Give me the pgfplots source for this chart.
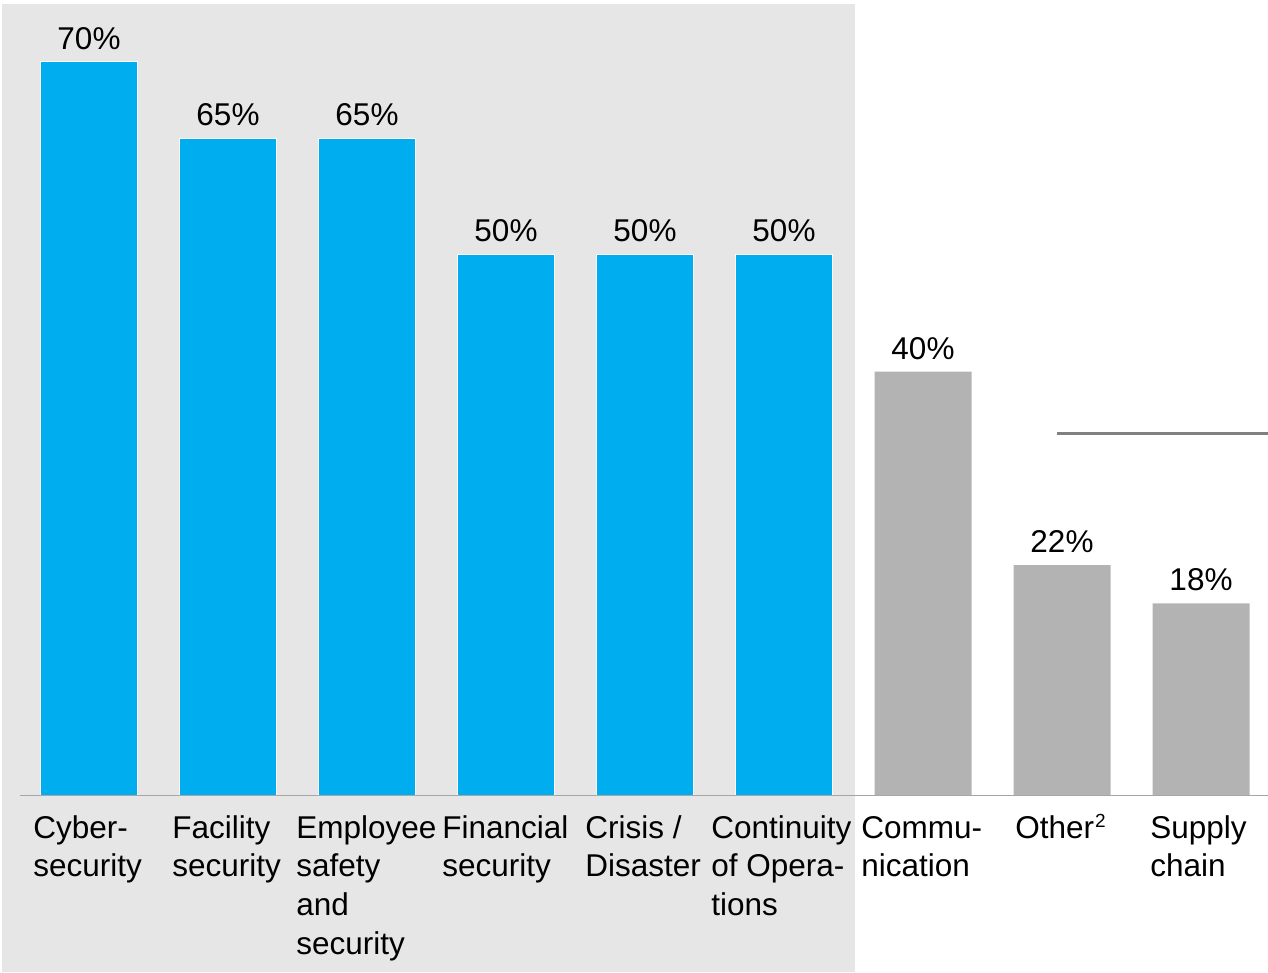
\documentclass[border=0pt]{standalone}
\usepackage{pgfplots}
\pgfplotsset{compat=1.18}
\usepackage{fontspec}
\setmainfont{Liberation Sans}
\definecolor{barblue}{RGB}{0,174,239}
\definecolor{bargray}{RGB}{179,179,179}
\definecolor{bggray}{RGB}{230,230,230}
\definecolor{axgray}{RGB}{166,166,166}
\definecolor{lngray}{RGB}{128,128,128}
\newcommand{\lbl}[1]{\fontsize{15.75bp}{19.35bp}\selectfont\begin{tabular}[t]{@{}l@{}}#1\end{tabular}}
\begin{document}
\begin{tikzpicture}
\begin{axis}[
  set layers,
  scale only axis,
  width=634bp, height=397.75bp,
  xmin=-0.6403, xmax=8.482,
  ymin=0, ymax=75.83,
  enlargelimits=false,
  clip=false,
  axis line style={draw=none},
  ytick=\empty,
  major tick length=0pt,
  xtick={-0.4029,0.5971,1.4892,2.5396,3.5683,4.4748,5.5540,6.6619,7.6331},
  xticklabels={
    {\lbl{Cyber-\\security}},
    {\lbl{Facility\\security}},
    {\lbl{Employee\\safety\\and\\security}},
    {\lbl{Financial\\security}},
    {\lbl{Crisis /\\Disaster}},
    {\lbl{Continuity\\of Opera-\\tions}},
    {\lbl{Commu-\\nication}},
    {\lbl{Other\kern0.5bp\raisebox{5.2bp}{\fontsize{9.5bp}{10bp}\selectfont 2}}},
    {\lbl{Supply\\chain}}},
  xticklabel style={anchor=base west, inner sep=0pt, yshift=-21.4bp},
  ybar, bar width=48.5bp, bar shift=0pt,
  point meta=explicit symbolic,
  nodes near coords,
  nodes near coords style={anchor=base, inner sep=0pt, yshift=6.2bp, font=\fontsize{15.75bp}{19bp}\selectfont, text=black},
]
\begin{pgfonlayer}{axis background}
\fill[bggray] (axis cs:-0.626,75.45) rectangle (axis cs:5.511,-16.83);
\end{pgfonlayer}
\addplot[fill=barblue, draw=white, line width=0.5bp] coordinates {
  (0,69.95) [70\%]
  (1,62.65) [65\%]
  (2,62.65) [65\%]
  (3,51.59) [50\%]
  (4,51.59) [50\%]
  (5,51.59) [50\%]
};
\addplot[fill=bargray, draw=none] coordinates {
  (6,40.40) [40\%]
  (7,21.97) [22\%]
  (8,18.32) [18\%]
};
\addplot[sharp plot, draw=axgray, line width=0.75bp, nodes near coords=] coordinates {(-0.496,0) (8.482,0)};
\addplot[sharp plot, draw=lngray, line width=1.3bp, nodes near coords=] coordinates {(6.964,34.51) (8.482,34.51)};
\coordinate (BL) at (axis cs:-0.6403,-16.83);
\coordinate (TR) at (axis cs:8.482,75.83);
\end{axis}
\pgfresetboundingbox
\useasboundingbox (BL) rectangle (TR);
\end{tikzpicture}
\end{document}
